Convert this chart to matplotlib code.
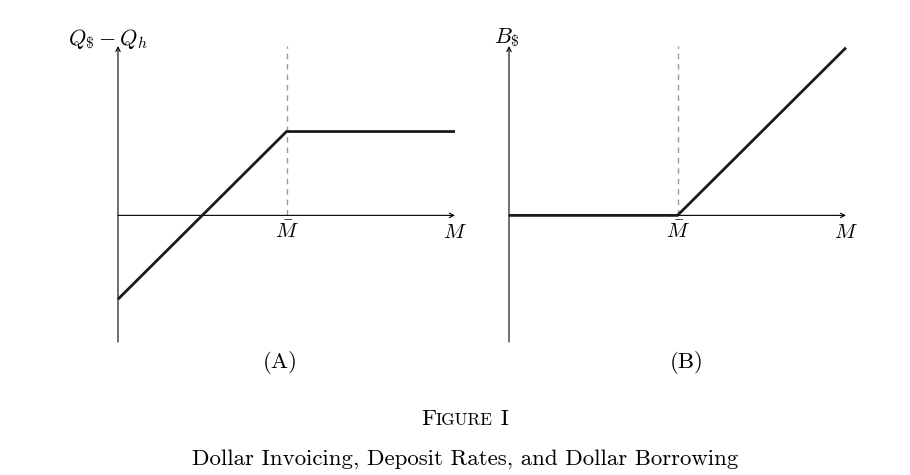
import matplotlib
matplotlib.use("Agg")
import matplotlib.pyplot as plt

plt.rcParams['mathtext.fontset'] = 'cm'
plt.rcParams['font.family'] = ['cmr10', 'DejaVu Serif']

# Data (stylised relationships)
m_vals = [0, 1, 2]            # 0, M-bar, M-end
qdiff_vals = [-1, 1, 1]       # Panel A: Q$ - Qh
bdollar_vals = [0, 0, 2]      # Panel B: B$
xtick_pos = [1, 2]
xtick_labels = [r"$\bar{M}$", r"$M$"]
ylabels = [r"$Q_{\$}-Q_h$", r"$B_{\$}$"]
panel_labels = ["(A)", "(B)"]

W, H = 910, 475
fig = plt.figure(figsize=(W / 100, H / 100), dpi=100)

ymin, ymax = -1.51, 2.02
def px_axes(left, right, top, bottom):
    return fig.add_axes([left / W, (H - bottom) / H, (right - left) / W, (bottom - top) / H])

axA = px_axes(118, 455, 46, 342)
axB = px_axes(509, 846, 46, 342)

cfg = [
    (axA, qdiff_vals, ylabels[0], panel_labels[0], -0.06, 2.02, 0.964),
    (axB, bdollar_vals, ylabels[1], panel_labels[1], -0.01, 2.05, 1.054),
]
for ax, yv, ylab, plab, lx, ly, px in cfg:
    ax.set_xlim(0, 2)
    ax.set_ylim(ymin, ymax)
    ax.axis('off')
    # axes with arrows
    ax.annotate("", xy=(0, ymax), xytext=(0, ymin),
                arrowprops=dict(arrowstyle="->", lw=0.8, color="black",
                                shrinkA=0, shrinkB=0, mutation_scale=8))
    ax.annotate("", xy=(2, 0), xytext=(0, 0),
                arrowprops=dict(arrowstyle="->", lw=0.8, color="black",
                                shrinkA=0, shrinkB=0, mutation_scale=8))
    # dashed vertical at M-bar
    ax.plot([1, 1], [0, ymax], color="#999999", lw=1.0, ls=(0, (4, 3.5)), clip_on=False)
    # main line
    ax.plot(m_vals, yv, color="#1a1a1a", lw=2.0, solid_capstyle='butt',
            solid_joinstyle='miter', clip_on=False, zorder=5)
    for xp, xl in zip(xtick_pos, xtick_labels):
        ax.text(xp, -0.265, xl, ha='center', va='baseline', fontsize=15)
    ax.text(lx, ly, ylab, ha='center', va='baseline', fontsize=16)
    ax.text(px, -1.82, plab, ha='center', va='baseline', fontsize=16.5)

# Figure caption with small caps "FIGURE I"
fig.canvas.draw()
renderer = fig.canvas.get_renderer()
pieces = [("F", 16.5), ("IGURE", 12.4), (" I", 16.5)]
texts = []
for s, fs in pieces:
    t = fig.text(0, (H - 425) / H, s, fontsize=fs, va='baseline', ha='left')
    texts.append(t)
widths = [t.get_window_extent(renderer).width for t in texts]
total = sum(widths)
x = 465 - total / 2
for t, w in zip(texts, widths):
    t.set_x(x / W)
    x += w

fig.text(465 / W, (H - 465) / H, "Dollar Invoicing, Deposit Rates, and Dollar Borrowing",
         ha='center', va='baseline', fontsize=16.5)

fig.savefig("out.png", dpi=100, facecolor="white")
